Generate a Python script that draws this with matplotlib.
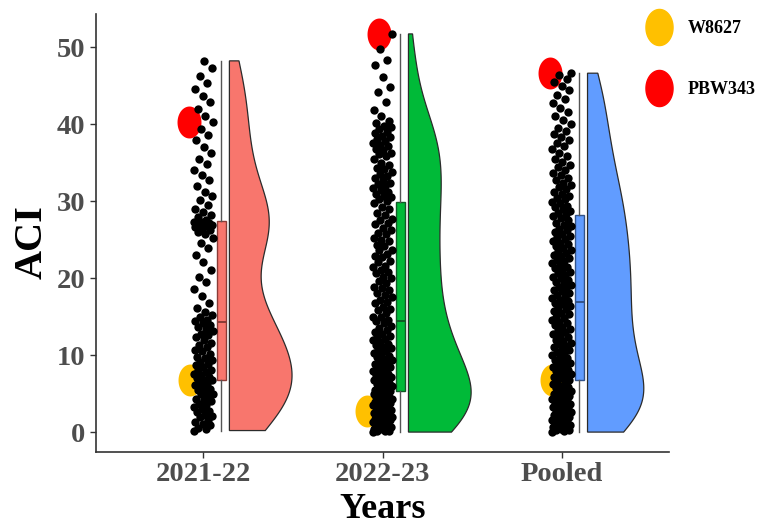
import matplotlib.pyplot as plt
import numpy as np
from matplotlib.path import Path
from matplotlib.lines import Line2D

plt.rcParams['font.family'] = ['Liberation Serif', 'DejaVu Serif']
plt.rcParams['font.weight'] = 'bold'

# ACI values per environment
anos = ['2021-22', '2022-23', 'Pooled']

aci_2021 = [0.2, 0.4, 0.5, 0.9, 1.1, 1.3, 1.6, 1.9, 2.1, 2.2, 2.6, 2.8, 3.0, 3.3, 3.5,
            3.6, 4.0, 4.2, 4.3, 4.7, 4.9, 5.0, 5.3, 5.5, 5.6, 5.9, 6.1, 6.3, 6.5, 6.7,
            6.8, 7.0, 7.2, 7.4, 7.5, 7.8, 8.0, 8.1, 8.4, 8.7, 8.9, 9.1, 9.4, 9.6, 9.8,
            10.2, 10.5, 10.7, 11.0, 11.3, 11.6, 11.9, 12.3, 12.6, 12.8, 13.1, 13.4, 13.7, 13.9, 14.2,
            14.4, 14.6, 14.9, 15.2, 15.6, 16.1, 16.8, 17.7, 18.6, 19.5, 20.2, 21.0, 22.1, 23.0, 23.9,
            24.6, 25.2, 25.7, 26.0, 26.2, 26.4, 26.6, 26.7, 26.8, 26.9, 27.0, 27.1, 27.2, 27.3, 27.3,
            27.6, 27.9, 28.2, 28.6, 29.0, 29.5, 30.1, 30.6, 31.2, 31.9, 32.7, 33.4, 34.0, 34.8, 35.5,
            36.2, 37.0, 37.9, 38.6, 39.3, 40.3, 41.0, 41.9, 42.8, 43.6, 44.5, 45.3, 46.2, 47.3, 48.2]

aci_2022 = [0.0, 0.1, 0.1, 0.2, 0.4, 0.4, 0.5, 0.7, 0.7, 0.8, 1.0, 1.0, 1.1, 1.3, 1.3,
            1.4, 1.6, 1.6, 1.7, 1.9, 1.9, 2.0, 2.2, 2.2, 2.3, 2.5, 2.5, 2.6, 2.8, 2.9,
            3.0, 3.2, 3.2, 3.3, 3.5, 3.5, 3.6, 3.8, 3.8, 3.9, 4.1, 4.1, 4.3, 4.4, 4.5,
            4.6, 4.8, 4.9, 5.0, 5.2,
            5.3, 5.4, 5.5, 5.7, 5.8, 6.0, 6.1, 6.2, 6.4, 6.5, 6.7, 6.8, 7.0, 7.1, 7.3,
            7.4, 7.6, 7.8, 7.9, 8.1, 8.3, 8.4, 8.6, 8.8, 9.0, 9.1, 9.3, 9.5, 9.7, 9.9,
            10.1, 10.3, 10.5, 10.7, 10.9, 11.1, 11.3, 11.5, 11.7, 11.9, 12.1, 12.3, 12.5, 12.8, 13.0,
            13.3, 13.5, 13.8, 14.1, 14.4,
            14.5, 14.9, 15.0, 15.4, 15.8, 16.0, 16.2, 16.7, 16.9, 17.1, 17.6, 17.8, 18.0, 18.5, 18.7,
            18.9, 19.4, 19.6, 20.0, 20.1, 20.6, 20.8, 21.0, 21.5, 21.6, 22.1, 22.2, 22.7, 22.9, 23.1,
            23.6, 23.7, 24.2, 24.3, 24.8, 25.0, 25.2, 25.7, 25.8, 26.3, 26.5, 27.0, 27.1, 27.6, 27.7,
            28.2, 28.4, 29.0, 29.2, 29.8,
            30.0, 30.2, 30.5, 30.7, 30.9, 31.2, 31.4, 31.7, 31.9, 32.2, 32.4, 32.7, 33.0, 33.2, 33.5,
            33.8, 34.1, 34.3, 34.7, 35.0, 35.4, 35.8, 36.1, 36.3, 36.6, 36.8, 37.1, 37.3, 37.6, 37.8,
            38.0, 38.3, 38.5, 38.8, 39.0, 39.3, 39.6, 39.8, 40.1, 40.4, 41.0, 41.8, 42.9, 44.2, 44.8,
            46.1, 47.6, 48.3, 49.7, 51.7]

aci_pooled = [0.0, 0.1, 0.3, 0.3, 0.4, 0.6, 0.7, 0.8, 0.9, 1.1, 1.2, 1.3, 1.5, 1.6, 1.7,
              1.8, 2.0, 2.1, 2.2, 2.4, 2.5, 2.6, 2.7, 2.9, 3.0, 3.1, 3.3, 3.4, 3.5, 3.6,
              3.8, 3.9, 4.0, 4.2, 4.3, 4.4, 4.6, 4.7, 4.8, 5.0, 5.1, 5.2, 5.4, 5.5, 5.7,
              5.8, 6.0, 6.2, 6.4, 6.7,
              6.8, 7.0, 7.1, 7.3, 7.4, 7.6, 7.8, 7.9, 8.1, 8.3, 8.4, 8.6, 8.8, 9.0, 9.2,
              9.4, 9.6, 9.8, 10.0, 10.2, 10.4, 10.6, 10.8, 11.0, 11.2, 11.4, 11.6, 11.8, 12.0, 12.3,
              12.5, 12.7, 13.0, 13.2, 13.4, 13.7, 13.9, 14.1, 14.3, 14.6, 14.8, 15.0, 15.3, 15.5, 15.7,
              16.0, 16.2, 16.4, 16.6, 16.8,
              17.0, 17.2, 17.4, 17.6, 17.8, 18.0, 18.3, 18.5, 18.7, 18.9, 19.1, 19.3, 19.5, 19.8, 20.0,
              20.2, 20.4, 20.6, 20.8, 21.1, 21.3, 21.5, 21.7, 21.9, 22.2, 22.4, 22.6, 22.8, 23.0, 23.3,
              23.5, 23.7, 23.9, 24.2, 24.4, 24.6, 24.8, 25.1, 25.3, 25.5, 25.7, 26.0, 26.2, 26.4, 26.7,
              26.9, 27.2, 27.5, 27.8, 28.1,
              28.3, 28.5, 28.7, 29.0, 29.2, 29.4, 29.7, 29.9, 30.2, 30.4, 30.7, 30.9, 31.2, 31.5, 31.8,
              32.1, 32.4, 32.7, 33.0, 33.4, 33.7, 34.0, 34.4, 34.7, 35.1, 35.5, 35.9, 36.3, 36.7, 37.1,
              37.5, 37.9, 38.3, 38.7, 39.1, 39.5, 40.0, 40.5, 41.0, 41.6, 42.1, 42.7, 43.2, 43.8, 44.4,
              44.9, 45.5, 45.9, 46.3, 46.6]

# check genotypes
w8627 = [6.7, 2.8, 6.7]
pbw343 = [40.3, 51.7, 46.6]

cores = ['#F8766D', '#00BA38', '#619CFF']
bordas = ['#8a3b36', '#0f5a25', '#33548a']

dados = [aci_2021, aci_2022, aci_pooled]

fig = plt.figure(figsize=(7.69, 5.30), dpi=100)
ax = fig.add_axes([96 / 769, 78 / 530, 573 / 769, 438 / 530])

# elliptical marker for the check genotypes
t = np.linspace(0, 2 * np.pi, 80)
elipse = Path(np.column_stack([0.75 * np.cos(t), np.sin(t)]), closed=True)


def kde(valores, grade):
    v = np.asarray(valores)
    n = len(v)
    q75, q25 = np.percentile(v, [75, 25])
    bw = 0.9 * min(v.std(ddof=1), (q75 - q25) / 1.34) * n ** -0.2
    z = (grade[:, None] - v[None, :]) / bw
    return np.exp(-0.5 * z ** 2).sum(axis=1) / (n * bw * np.sqrt(2 * np.pi))


# half violins (area scaled, trimmed to the data range)
grades = [np.linspace(min(d), max(d), 300) for d in dados]
densidades = [kde(d, g) for d, g in zip(dados, grades)]
dmax = max(d.max() for d in densidades)
largura_max = 0.35

for i, (g, dens) in enumerate(zip(grades, densidades)):
    x0 = i + 1 + 0.145
    larg = dens / dmax * largura_max
    ax.fill(np.concatenate([[x0], x0 + larg, [x0]]),
            np.concatenate([[g[0]], g, [g[-1]]]),
            facecolor=cores[i], edgecolor='#2b2b2b', linewidth=0.9, zorder=2)

# narrow boxplots
for i, d in enumerate(dados):
    bp = ax.boxplot([d], positions=[i + 1.1], widths=0.05, patch_artist=True,
                    showfliers=False, showcaps=False, whis=1.5, manage_ticks=False,
                    zorder=3)
    bp['boxes'][0].set(facecolor=cores[i], edgecolor=bordas[i], linewidth=1.0)
    bp['medians'][0].set(color=bordas[i], linewidth=1.4)
    for w in bp['whiskers']:
        w.set(color='#555555', linewidth=1.0)

# highlighted genotypes (drawn under the jittered points)
desloc_w = [-0.074, -0.084, -0.052]
desloc_p = [-0.078, -0.022, -0.063]
for i in range(3):
    ax.scatter(i + 1 + desloc_w[i], w8627[i], marker=elipse, s=23 ** 2,
               color='#FFC000', linewidths=0, zorder=4)
    ax.scatter(i + 1 + desloc_p[i], pbw343[i], marker=elipse, s=23 ** 2,
               color='#FF0000', linewidths=0, zorder=4)

# jittered raw points
for i, d in enumerate(dados):
    jit = ((np.arange(len(d)) * 0.618034) % 1 - 0.5) * 0.11
    ax.scatter(i + 1 + jit, d, s=36, color='black', linewidths=0, zorder=5)

ax.set_xlim(0.4, 3.6)
ax.set_ylim(-2.585, 54.285)
ax.set_xticks([1, 2, 3])
ax.set_xticklabels(anos)
ax.set_yticks(range(0, 51, 10))

for lado in ['top', 'right']:
    ax.spines[lado].set_visible(False)
for lado in ['left', 'bottom']:
    ax.spines[lado].set_color('#333333')
    ax.spines[lado].set_linewidth(1.2)

ax.tick_params(axis='both', direction='out', length=4.5, width=1.0, color='#333333',
               labelcolor='#4D4D4D', labelsize=20.5)
ax.tick_params(axis='y', pad=3)
ax.tick_params(axis='x', pad=2.5)

fig.text(42 / 769, 1 - 242 / 530, 'ACI', rotation=90, rotation_mode='anchor',
         ha='center', va='baseline', fontsize=29, fontweight='bold', color='black')
fig.text(383 / 769, 1 - 518 / 530, 'Years', ha='center', va='baseline',
         fontsize=26, fontweight='bold', color='black')

alca = [Line2D([], [], marker=elipse, markersize=26, linestyle='', color='#FFC000'),
        Line2D([], [], marker=elipse, markersize=26, linestyle='', color='#FF0000')]
fig.legend(alca, ['W8627', 'PBW343'], loc='upper left',
           bbox_to_anchor=(641 / 769, 1 - 20 / 530), frameon=False,
           labelspacing=2.45, handletextpad=0.6, borderpad=0,
           borderaxespad=0, prop={'weight': 'bold', 'size': 13})

fig.savefig('out.png', dpi=100)
